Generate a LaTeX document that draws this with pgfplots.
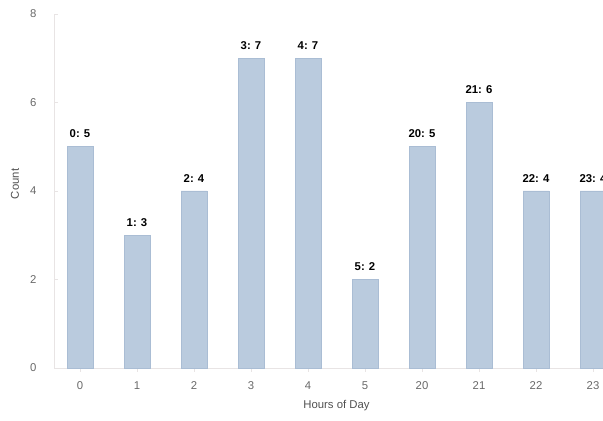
\documentclass[border=0pt]{standalone}
\usepackage{fontspec}
\setmainfont{Liberation Sans}
\usepackage{pgfplots}
\pgfplotsset{compat=1.18}

\definecolor{barfill}{RGB}{186,203,222}
\definecolor{baredge}{RGB}{170,189,212}
\definecolor{ticktxt}{RGB}{105,105,105}
\definecolor{labtxt}{RGB}{80,80,80}
\definecolor{axline}{RGB}{232,228,228}

\begin{document}
\begin{tikzpicture}
\useasboundingbox (0,0) rectangle (452.25pt,315.75pt);
\clip (0,0) rectangle (452.25pt,315.75pt);
\begin{axis}[
    anchor=origin, at={(60pt,39.75pt)},
    x=42.75pt, y=33.1875pt,
    xmin=-0.45, xmax=9.6,
    ymin=0, ymax=8,
    ybar, bar width=19.5pt, bar shift=0pt,
    axis lines*=left,
    axis line style={draw=axline},
    tick style={draw=axline},
    major tick length=3pt,
    xtick={0,...,9},
    xticklabels={0,1,2,3,4,5,20,21,22,23},
    ytick={0,2,4,6,8},
    /pgf/number format/assume math mode=true,
    ticklabel style={font=\fontsize{8.5}{10}\selectfont, text=ticktxt},
    xticklabel style={yshift=-4pt},
    yticklabel style={xshift=-10pt},
    xlabel={Hours of Day},
    ylabel={Count},
    label style={font=\fontsize{8.5}{10}\selectfont, text=labtxt},
    xlabel style={at={(axis description cs:0.4925,0)}, anchor=center, yshift=-28.5pt},
    ylabel style={at={(axis description cs:0,0.52)}, anchor=center, yshift=29.5pt},
    point meta=explicit symbolic,
    nodes near coords={\pgfplotspointmeta},
    nodes near coords style={font=\fontsize{8.5}{10}\selectfont\bfseries, text=black, yshift=3pt},
    clip=false,
]
\addplot[fill=barfill, draw=baredge] coordinates {
    (0,5) [0: 5]
    (1,3) [1: 3]
    (2,4) [2: 4]
    (3,7) [3: 7]
    (4,7) [4: 7]
    (5,2) [5: 2]
    (6,5) [20: 5]
    (7,6) [21: 6]
    (8,4) [22: 4]
    (9,4) [23: 4]
};
\end{axis}
\end{tikzpicture}
\end{document}
